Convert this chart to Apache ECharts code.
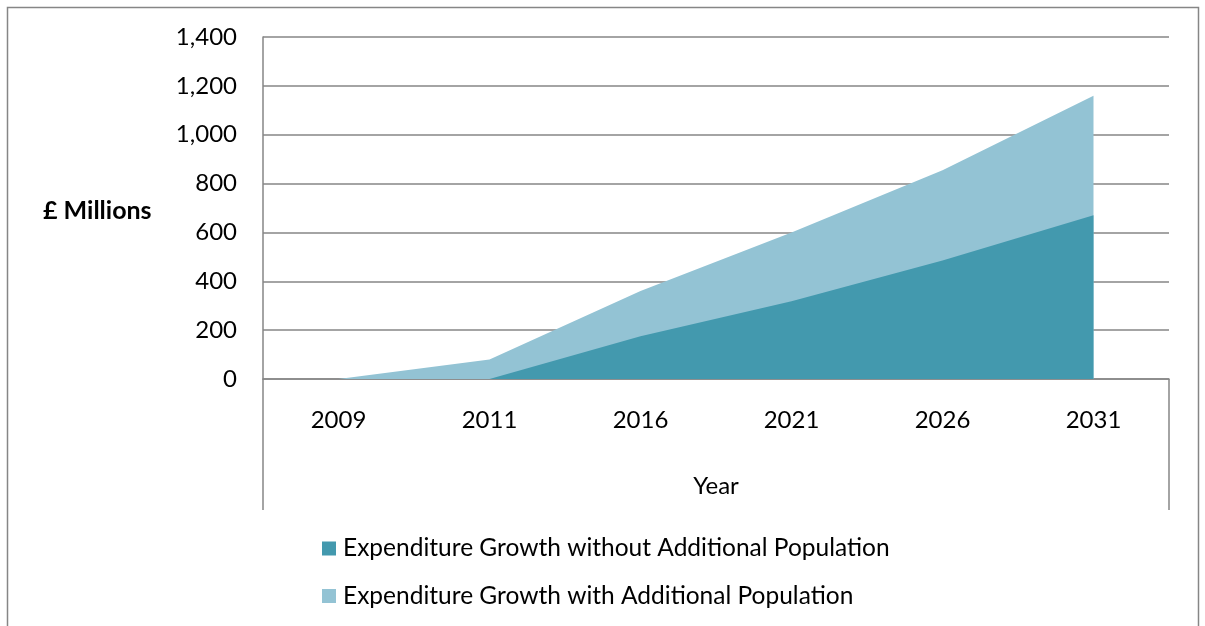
<!DOCTYPE html>
<html>
<head>
<meta charset="utf-8">
<script src="https://cdn.jsdelivr.net/npm/echarts@6/dist/echarts.min.js"></script>
<style>
html,body{margin:0;padding:0;background:#fff;}
#chart{width:1205px;height:626px;}
</style>
</head>
<body>
<div id="chart"></div>
<script>
const years = ['2009', '2011', '2016', '2021', '2026', '2031'];
const withoutPop = [0, 0, 175, 318, 485, 670];
const withPop = [0, 80, 360, 600, 855, 1160];
const seriesNames = ['Expenditure Growth without Additional Population', 'Expenditure Growth with Additional Population'];
const yTicks = [0, 200, 400, 600, 800, 1000, 1200, 1400];

const FONT = 'Lato';
const gridL = 263, gridR = 36, gridT = 37, gridB = 247;
const W = 1205, H = 626;

const chart = echarts.init(document.getElementById('chart'), null, {renderer: 'canvas'});
chart.setOption({
  animation: false,
  backgroundColor: '#fff',
  textStyle: {fontFamily: FONT},
  grid: {left: gridL, right: gridR, top: gridT, bottom: gridB, containLabel: false},
  legend: {
    orient: 'vertical', left: 317, top: 531, itemGap: 22.5,
    itemWidth: 14, itemHeight: 14, icon: 'rect',
    data: seriesNames,
    textStyle: {fontFamily: FONT, fontSize: 24.5, color: '#000', padding: [0, 0, 0, 2]}
  },
  xAxis: {
    type: 'category', data: years, boundaryGap: true,
    name: 'Year', nameLocation: 'middle', nameGap: 95,
    nameTextStyle: {fontFamily: FONT, fontSize: 24, color: '#000'},
    axisLine: {lineStyle: {color: '#868686', width: 1.5}},
    axisTick: {show: false},
    axisLabel: {fontFamily: FONT, fontSize: 24, color: '#000', margin: 29}
  },
  yAxis: {
    type: 'value', min: yTicks[0], max: yTicks[yTicks.length - 1], interval: 200,
    axisLine: {show: true, lineStyle: {color: '#868686', width: 1.5}},
    axisTick: {show: false},
    splitLine: {lineStyle: {color: '#868686', width: 1.5}},
    axisLabel: {fontFamily: FONT, fontSize: 24, color: '#000', margin: 26,
      formatter: v => v.toLocaleString('en-GB')}
  },
  series: [
    {
      name: seriesNames[0], type: 'line', data: withoutPop, z: 3,
      symbol: 'none', lineStyle: {width: 0}, color: '#4399AE',
      areaStyle: {color: '#4399AE', opacity: 1}
    },
    {
      name: seriesNames[1], type: 'line', data: withPop, z: 2,
      symbol: 'none', lineStyle: {width: 0}, color: '#93C3D4',
      areaStyle: {color: '#93C3D4', opacity: 1}
    }
  ],
  graphic: [
    {type: 'rect', shape: {x: 7.5, y: 7.5, width: 1191, height: 640}, style: {fill: null, stroke: '#868686', lineWidth: 1.5}, z: 0, silent: true},
    {type: 'line', shape: {x1: gridL, y1: H - gridB, x2: gridL, y2: 510}, style: {stroke: '#868686', lineWidth: 1.5}, silent: true},
    {type: 'line', shape: {x1: W - gridR, y1: H - gridB, x2: W - gridR, y2: 510}, style: {stroke: '#868686', lineWidth: 1.5}, silent: true},
    {type: 'text', left: 43, top: 198, style: {text: '£ Millions', fontFamily: FONT, fontSize: 25, fontWeight: 'bold', fill: '#000'}}
  ]
});
</script>
</body>
</html>
